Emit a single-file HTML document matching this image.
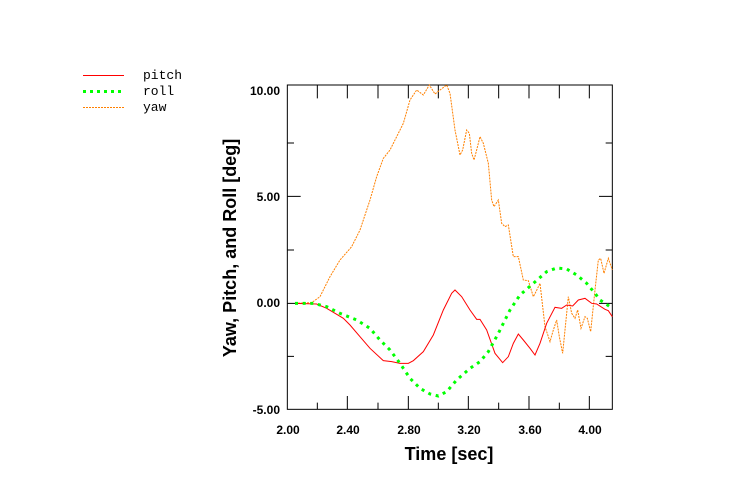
<!DOCTYPE html>
<html><head><style>
html,body{margin:0;padding:0;background:#fff;}
</style></head><body>
<svg width="736" height="495" xmlns="http://www.w3.org/2000/svg" style="display:block">
<g font-family="Liberation Mono, monospace" font-size="13" fill="#000">
<line x1="83" y1="75.5" x2="124" y2="75.5" stroke="#f00" stroke-width="1"/>
<text x="143" y="79">pitch</text>
<line x1="83" y1="91.5" x2="124" y2="91.5" stroke="#0f0" stroke-width="3" stroke-dasharray="3,4"/>
<text x="143" y="95">roll</text>
<line x1="83" y1="107.5" x2="124" y2="107.5" stroke="#ff8000" stroke-width="1" stroke-dasharray="2,1"/>
<text x="143" y="111">yaw</text>
</g>
<g font-family="Liberation Sans, Arial, sans-serif" font-weight="bold" font-size="12" fill="#000" text-anchor="end">
<text x="280" y="95">10.00</text>
<text x="280" y="201">5.00</text>
<text x="280" y="307">0.00</text>
<text x="280" y="414">-5.00</text>
</g>
<g font-family="Liberation Sans, Arial, sans-serif" font-weight="bold" font-size="12" fill="#000" text-anchor="middle">
<text x="288" y="434">2.00</text>
<text x="348" y="434">2.40</text>
<text x="409" y="434">2.80</text>
<text x="469" y="434">3.20</text>
<text x="530" y="434">3.60</text>
<text x="590" y="434">4.00</text>
</g>
<text x="449" y="460" font-family="Liberation Sans, Arial, sans-serif" font-weight="bold" font-size="18" text-anchor="middle">Time [sec]</text>
<text transform="translate(236,248) rotate(-90)" font-family="Liberation Sans, Arial, sans-serif" font-weight="bold" font-size="18" text-anchor="middle">Yaw, Pitch, and Roll  [deg]</text>
<g transform="translate(280,70) scale(0.33333)">
<rect x="22" y="45" width="975" height="973" fill="none" stroke="#000" stroke-width="3"/>
<g stroke="#000" stroke-width="3">
<path d="M112 45v40M202 45v40M294 45v40M385 45v40M475 45v40M565 45v40M656 45v40M747 45v40M838 45v40M928 45v40"/>
<path d="M112 1018v-20M202 1018v-40M294 1018v-20M385 1018v-40M475 1018v-20M565 1018v-40M656 1018v-20M747 1018v-40M838 1018v-20M928 1018v-40"/>
<path d="M22 219h20M22 379h40M22 540h20M22 700h40M22 859h20M997 219h-20M997 379h-40M997 540h-20M997 700h-40M997 859h-20"/>
</g>
<polyline fill="none" stroke="#ff8000" stroke-width="3" stroke-dasharray="6,3" points="45,700 95,698 120,680 150,620 180,570 215,530 240,480 270,390 290,320 310,265 330,240 350,200 370,160 390,90 410,60 430,75 448,45 465,72 480,60 500,45 510,70 525,180 540,255 548,240 560,180 568,190 575,250 582,270 590,240 600,200 610,220 625,280 635,390 642,410 655,390 665,460 675,470 685,465 700,560 715,560 730,630 745,632 760,680 768,665 780,640 795,770 810,815 820,780 830,750 838,800 848,850 858,750 865,680 875,730 885,745 893,720 903,775 915,740 922,745 932,785 945,660 955,570 962,565 972,610 985,565 997,600"/>
<polyline fill="none" stroke="#f00" stroke-width="3" points="45,700 110,702 140,715 190,745 210,765 240,800 270,835 310,872 335,875 360,880 385,880 400,872 430,845 460,795 490,720 515,670 525,660 545,680 570,720 590,748 600,748 620,780 645,850 668,878 685,860 700,820 715,792 730,810 750,835 765,855 780,820 800,760 825,712 845,715 860,705 878,708 895,690 915,685 935,700 950,702 975,718 985,722 997,740"/>
<polyline fill="none" stroke="#0f0" stroke-width="9" stroke-dasharray="9,14" points="45,700 100,700 140,710 180,730 230,750 270,775 300,810 330,840 360,880 390,925 420,955 450,972 475,978 500,965 530,930 570,895 600,875 625,845 655,790 690,720 720,675 760,640 800,605 830,594 860,597 890,615 920,640 945,670 960,690 997,715"/>
</g>
</svg>
</body></html>
